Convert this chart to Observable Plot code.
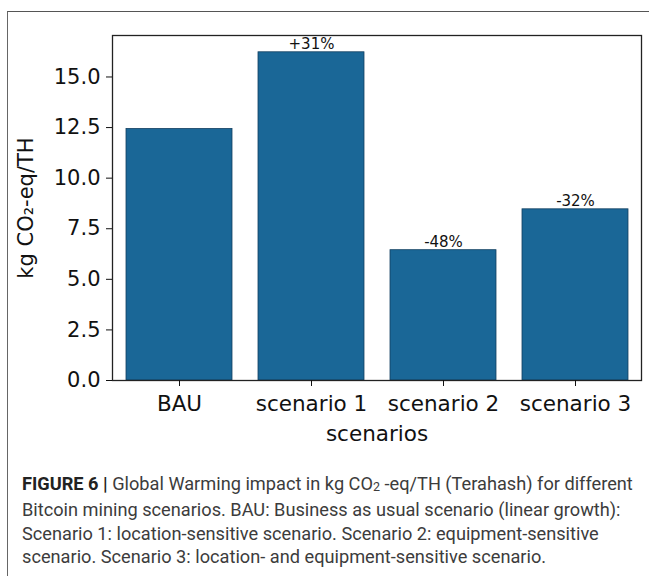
<!DOCTYPE html>
<html>
<head>
<meta charset="utf-8">
<script src="https://cdn.jsdelivr.net/npm/d3@7"></script>
<script src="https://cdn.jsdelivr.net/npm/@observablehq/plot@0.6"></script>
<style>
  html, body { margin: 0; padding: 0; background: #fff; }
  #page { position: relative; width: 655px; height: 579px; overflow: hidden; background: #fff; }
  #frame { position: absolute; left: 7px; top: 11px; width: 641px; height: 564px;
           border-top: 1.5px solid #555; border-left: 1.5px solid #666; }
  #chart { position: absolute; left: 0; top: 0; }
  #caption { position: absolute; left: 22px; top: 472px; width: 630px;
             font-family: Roboto, "Liberation Sans", sans-serif; font-size: 18.2px;
             line-height: 23.4px; color: #3c3c3c; white-space: nowrap; }
  #caption b { color: #222; }
  #caption sub { font-size: 12.5px; vertical-align: -1px; }
</style>
</head>
<body>
<div id="page">
  <div id="frame"></div>
  <div id="chart"></div>
  <div id="caption">
    <b>FIGURE 6 |</b> Global Warming impact in kg CO<sub>2</sub> -eq/TH (Terahash) for different<br>
    Bitcoin mining scenarios. BAU: Business as usual scenario (linear growth):<br>
    Scenario 1: location-sensitive scenario. Scenario 2: equipment-sensitive<br>
    scenario. Scenario 3: location- and equipment-sensitive scenario.
  </div>
</div>
<script>
const categories = ["BAU", "scenario 1", "scenario 2", "scenario 3"];
const values = [12.43, 16.22, 6.44, 8.46];
const changeLabels = ["", "+31%", "-48%", "-32%"];
const yTicks = [0, 2.5, 5, 7.5, 10, 12.5, 15];

const data = categories.map((c, i) => ({category: c, value: values[i], label: changeLabels[i]}));

const chart = Plot.plot({
  width: 655,
  height: 460,
  marginLeft: 112,
  marginRight: 14,
  marginTop: 35,
  marginBottom: 80,
  style: {fontFamily: "DejaVu Sans", fontSize: "21px", color: "#111", background: "transparent"},
  x: {domain: categories, paddingInner: 0.2, paddingOuter: 0.1, label: null},
  y: {domain: [0, 17.05], label: null},
  marks: [
    Plot.barY(data, {x: "category", y: "value", fill: "#1a6797", stroke: "#123f60", strokeWidth: 0.8}),
    Plot.text(data, {x: "category", y: "value", text: "label", lineAnchor: "bottom", dy: -3,
                     fontSize: 15, fill: "#111"}),
    Plot.frame({stroke: "#222", strokeWidth: 1.3}),
    Plot.axisY({ticks: yTicks, tickFormat: d3.format(".1f"), tickSize: 6, tickPadding: 6,
                fontSize: 21, label: "kg CO₂-eq/TH", labelAnchor: "center", labelArrow: "none",
                labelOffset: 94}),
    Plot.axisX({tickSize: 6, tickPadding: 9, fontSize: 21.5, label: "scenarios",
                labelAnchor: "center", labelArrow: "none", labelOffset: 60})
  ]
});
document.getElementById("chart").appendChild(chart);
</script>
</body>
</html>
